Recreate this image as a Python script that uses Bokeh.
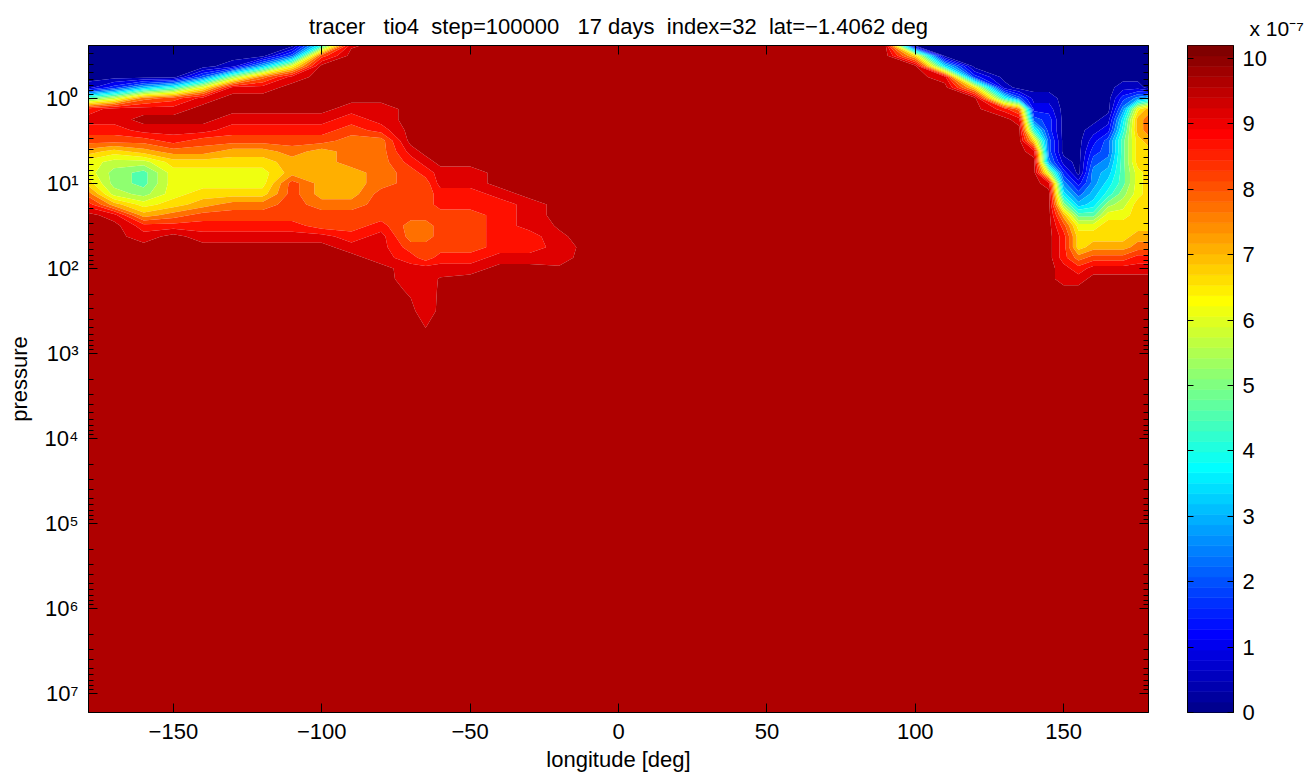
import numpy as np
from bokeh.plotting import figure
from bokeh.layouts import row
from bokeh.models import Range1d, LinearAxis, FixedTicker, CustomJSTickFormatter
from bokeh.embed import file_html
from bokeh.resources import INLINE

# ---------------------------------------------------------------------------
# data: tio4 tracer cross-section at lat = -1.4062 deg, step 100000 (17 days)
# ---------------------------------------------------------------------------
# longitude of each sampled profile [deg]
lon = [-178.6, -170, -160, -150, -140, -130, -120, -110, -100, -90, -80, -70,
       -65, -60, -50, -40, -30, -20, -10, 80, 90, 100, 110, 120, 130, 135, 140,
       145, 150, 155, 160, 165, 170, 175, 178.6]

# log10(pressure) of each sampled level, top of the model downwards
log_p = [-0.62, -0.5, -0.375, -0.25, -0.125, 0.0, 0.125, 0.25, 0.375, 0.5,
         0.625, 0.75, 0.875, 1.0, 1.125, 1.25, 1.375, 1.5, 1.625, 1.75,
         1.875, 2.0, 2.125, 2.25, 2.5, 2.75, 3.0, 7.22]

# tracer mixing ratio [x 1e-7], one profile per longitude (same order as lon)
tracer_profiles = [
    [0.3, 0.3, 0.3, 0.3, 0.8, 4.9, 8.9, 9.4, 8.9, 8.4, 7.4, 6.4, 6.4, 6.9,
     7.9, 8.9, 9.9, 9.9, 9.9, 9.9, 9.9, 9.9, 9.9, 9.9, 9.9, 9.9, 9.9, 9.9],
    [0.3, 0.3, 0.3, 0.3, 1.8, 5.9, 9.4, 9.4, 8.9, 8.4, 6.9, 5.9, 5.4, 5.4,
     5.9, 7.4, 9.4, 9.9, 9.9, 9.9, 9.9, 9.9, 9.9, 9.9, 9.9, 9.9, 9.9, 9.9],
    [0.3, 0.3, 0.3, 0.3, 3.3, 7.9, 9.4, 9.9, 9.4, 8.4, 7.4, 5.9, 4.9, 4.9,
     5.4, 6.4, 7.4, 8.9, 9.4, 9.9, 9.9, 9.9, 9.9, 9.9, 9.9, 9.9, 9.9, 9.9],
    [0.3, 0.3, 0.3, 0.3, 4.3, 8.4, 9.4, 9.9, 9.4, 8.9, 7.9, 6.9, 6.4, 6.4,
     6.4, 6.9, 7.9, 8.9, 9.9, 9.9, 9.9, 9.9, 9.9, 9.9, 9.9, 9.9, 9.9, 9.9],
    [0.3, 0.3, 0.3, 2.3, 6.4, 9.4, 9.9, 9.9, 9.4, 8.4, 7.9, 6.9, 6.4, 6.4,
     6.9, 7.4, 8.4, 8.9, 9.4, 9.9, 9.9, 9.9, 9.9, 9.9, 9.9, 9.9, 9.9, 9.9],
    [0.3, 0.3, 0.8, 5.4, 9.4, 9.9, 9.9, 9.4, 8.9, 8.4, 7.4, 6.9, 6.4, 6.4,
     6.9, 7.9, 8.4, 8.9, 9.4, 9.9, 9.9, 9.9, 9.9, 9.9, 9.9, 9.9, 9.9, 9.9],
    [0.3, 0.3, 3.3, 7.9, 9.4, 9.9, 9.9, 9.4, 8.9, 8.4, 7.4, 6.9, 6.4, 6.4,
     6.9, 7.9, 8.4, 8.9, 9.4, 9.9, 9.9, 9.9, 9.9, 9.9, 9.9, 9.9, 9.9, 9.9],
    [0.3, 2.3, 6.4, 9.4, 9.9, 9.9, 9.9, 9.4, 8.9, 8.4, 7.9, 7.4, 7.4, 8.4,
     8.4, 8.4, 8.4, 8.9, 9.4, 9.9, 9.9, 9.9, 9.9, 9.9, 9.9, 9.9, 9.9, 9.9],
    [4.3, 8.4, 9.9, 9.9, 9.9, 9.9, 9.9, 9.4, 8.9, 8.4, 7.4, 7.4, 7.4, 7.4,
     7.4, 7.9, 8.4, 8.4, 9.4, 9.9, 9.9, 9.9, 9.9, 9.9, 9.9, 9.9, 9.9, 9.9],
    [9.6, 9.9, 9.9, 9.9, 9.9, 9.9, 9.4, 8.9, 8.4, 7.9, 7.9, 7.9, 7.4, 7.4,
     7.4, 7.9, 8.4, 8.4, 8.9, 9.4, 9.9, 9.9, 9.9, 9.9, 9.9, 9.9, 9.9, 9.9],
    [9.9, 9.9, 9.9, 9.9, 9.9, 9.9, 9.4, 9.4, 8.9, 7.9, 7.9, 7.9, 7.9, 7.9,
     8.4, 8.4, 8.4, 8.9, 9.4, 9.4, 9.4, 9.9, 9.9, 9.9, 9.9, 9.9, 9.9, 9.9],
    [9.9, 9.9, 9.9, 9.9, 9.9, 9.9, 9.9, 9.9, 9.9, 9.9, 9.4, 8.9, 8.4, 8.4,
     8.4, 8.4, 8.4, 7.9, 7.9, 8.4, 8.9, 9.4, 9.45, 9.62, 9.8, 9.9, 9.9, 9.9],
    [9.9, 9.9, 9.9, 9.9, 9.9, 9.9, 9.9, 9.9, 9.9, 9.9, 9.9, 9.4, 8.9, 8.4,
     8.4, 8.4, 8.4, 7.9, 7.9, 8.4, 8.4, 9.4, 9.4, 9.4, 9.45, 9.75, 9.9, 9.9],
    [9.9, 9.9, 9.9, 9.9, 9.9, 9.9, 9.9, 9.9, 9.9, 9.9, 9.9, 9.9, 9.4, 9.4,
     8.9, 8.9, 8.4, 8.4, 8.4, 8.4, 8.9, 9.4, 9.75, 9.78, 9.8, 9.9, 9.9, 9.9],
    [9.9, 9.9, 9.9, 9.9, 9.9, 9.9, 9.9, 9.9, 9.9, 9.9, 9.9, 9.9, 9.4, 9.4,
     8.9, 8.9, 8.4, 8.4, 8.4, 8.4, 8.9, 9.4, 9.9, 9.9, 9.9, 9.9, 9.9, 9.9],
    [9.9, 9.9, 9.9, 9.9, 9.9, 9.9, 9.9, 9.9, 9.9, 9.9, 9.9, 9.9, 9.9, 9.9,
     9.4, 8.9, 8.9, 8.9, 8.9, 8.9, 9.4, 9.9, 9.9, 9.9, 9.9, 9.9, 9.9, 9.9],
    [9.9, 9.9, 9.9, 9.9, 9.9, 9.9, 9.9, 9.9, 9.9, 9.9, 9.9, 9.9, 9.9, 9.9,
     9.9, 9.4, 9.4, 9.4, 8.9, 8.9, 9.4, 9.9, 9.9, 9.9, 9.9, 9.9, 9.9, 9.9],
    [9.9, 9.9, 9.9, 9.9, 9.9, 9.9, 9.9, 9.9, 9.9, 9.9, 9.9, 9.9, 9.9, 9.9,
     9.9, 9.9, 9.9, 9.75, 9.6, 9.4, 9.5, 9.75, 9.9, 9.9, 9.9, 9.9, 9.9, 9.9],
    [9.9, 9.9, 9.9, 9.9, 9.9, 9.9, 9.9, 9.9, 9.9, 9.9, 9.9, 9.9, 9.9, 9.9,
     9.9, 9.9, 9.9, 9.9, 9.9, 9.9, 9.9, 9.9, 9.9, 9.9, 9.9, 9.9, 9.9, 9.9],
    [9.9, 9.9, 9.9, 9.9, 9.9, 9.9, 9.9, 9.9, 9.9, 9.9, 9.9, 9.9, 9.9, 9.9,
     9.9, 9.9, 9.9, 9.9, 9.9, 9.9, 9.9, 9.9, 9.9, 9.9, 9.9, 9.9, 9.9, 9.9],
    [9.75, 9.9, 9.9, 9.9, 9.9, 9.9, 9.9, 9.9, 9.9, 9.9, 9.9, 9.9, 9.9, 9.9,
     9.9, 9.9, 9.9, 9.9, 9.9, 9.9, 9.9, 9.9, 9.9, 9.9, 9.9, 9.9, 9.9, 9.9],
    [0.3, 6.9, 9.9, 9.9, 9.9, 9.9, 9.9, 9.9, 9.9, 9.9, 9.9, 9.9, 9.9, 9.9,
     9.9, 9.9, 9.9, 9.9, 9.9, 9.9, 9.9, 9.9, 9.9, 9.9, 9.9, 9.9, 9.9, 9.9],
    [0.3, 0.3, 3.8, 9.4, 9.9, 9.9, 9.9, 9.9, 9.9, 9.9, 9.9, 9.9, 9.9, 9.9,
     9.9, 9.9, 9.9, 9.9, 9.9, 9.9, 9.9, 9.9, 9.9, 9.9, 9.9, 9.9, 9.9, 9.9],
    [0.3, 0.3, 0.3, 1.8, 6.9, 9.9, 9.9, 9.9, 9.9, 9.9, 9.9, 9.9, 9.9, 9.9,
     9.9, 9.9, 9.9, 9.9, 9.9, 9.9, 9.9, 9.9, 9.9, 9.9, 9.9, 9.9, 9.9, 9.9],
    [0.3, 0.3, 0.3, 0.3, 0.8, 4.3, 8.9, 9.9, 9.9, 9.9, 9.9, 9.9, 9.9, 9.9,
     9.9, 9.9, 9.9, 9.9, 9.9, 9.9, 9.9, 9.9, 9.9, 9.9, 9.9, 9.9, 9.9, 9.9],
    [0.3, 0.3, 0.3, 0.3, 0.3, 2.3, 7.9, 9.4, 9.9, 9.9, 9.9, 9.9, 9.9, 9.9,
     9.9, 9.9, 9.9, 9.9, 9.9, 9.9, 9.9, 9.9, 9.9, 9.9, 9.9, 9.9, 9.9, 9.9],
    [0.3, 0.3, 0.3, 0.3, 0.3, 0.8, 1.3, 2.3, 4.3, 6.9, 9.4, 9.9, 9.9, 9.9,
     9.9, 9.9, 9.9, 9.9, 9.9, 9.9, 9.9, 9.9, 9.9, 9.9, 9.9, 9.9, 9.9, 9.9],
    [0.3, 0.3, 0.3, 0.3, 0.3, 0.8, 1.3, 1.8, 1.8, 2.3, 2.3, 2.8, 5.9, 9.4,
     9.9, 9.9, 9.9, 9.9, 9.9, 9.9, 9.9, 9.9, 9.9, 9.9, 9.9, 9.9, 9.9, 9.9],
    [0.3, 0.3, 0.3, 0.3, 0.3, 0.3, 0.3, 0.3, 0.3, 0.3, 0.3, 0.8, 1.8, 2.8,
     3.8, 5.4, 7.4, 8.4, 8.9, 8.9, 8.9, 9.4, 9.4, 9.9, 9.9, 9.9, 9.9, 9.9],
    [0.3, 0.3, 0.3, 0.3, 0.3, 0.3, 0.3, 0.3, 0.3, 0.3, 0.3, 0.3, 0.3, 1.3,
     2.3, 3.3, 4.9, 6.4, 6.9, 6.9, 7.9, 8.9, 9.4, 9.9, 9.9, 9.9, 9.9, 9.9],
    [0.3, 0.3, 0.3, 0.3, 0.3, 0.3, 0.3, 0.3, 0.8, 1.3, 1.8, 2.3, 2.8, 2.8,
     3.3, 3.8, 4.9, 6.4, 6.9, 7.4, 8.4, 9.4, 9.9, 9.9, 9.9, 9.9, 9.9, 9.9],
    [0.3, 0.3, 0.3, 0.3, 0.3, 0.3, 0.3, 0.8, 1.3, 2.3, 2.3, 2.8, 3.3, 3.8,
     4.3, 5.4, 6.4, 6.9, 6.9, 7.4, 8.4, 9.4, 9.9, 9.9, 9.9, 9.9, 9.9, 9.9],
    [0.3, 0.3, 0.3, 0.3, 0.8, 1.8, 2.8, 3.8, 4.3, 4.9, 4.9, 4.9, 4.9, 4.9,
     5.4, 5.9, 6.4, 6.9, 6.9, 7.4, 8.4, 9.4, 9.9, 9.9, 9.9, 9.9, 9.9, 9.9],
    [0.3, 0.3, 0.3, 0.3, 0.8, 2.8, 6.4, 7.4, 7.4, 6.9, 6.9, 6.9, 6.4, 6.4,
     6.4, 6.9, 6.9, 6.9, 7.4, 7.9, 8.9, 9.4, 9.9, 9.9, 9.9, 9.9, 9.9, 9.9],
    [0.3, 0.3, 0.3, 0.3, 0.3, 3.3, 7.4, 7.9, 7.9, 7.4, 6.9, 6.9, 6.9, 6.9,
     6.9, 6.9, 6.9, 6.9, 7.4, 7.9, 8.9, 9.4, 9.9, 9.9, 9.9, 9.9, 9.9, 9.9],
]

# colour limits of the tracer [x 1e-7] and number of filled bands
c_min, c_max = 0.0, 10.2
n_bands = 20

# tick positions
lon_ticks = [-150, -100, -50, 0, 50, 100, 150]
p_decades = [0, 1, 2, 3, 4, 5, 6, 7]
cb_ticks = [0, 1, 2, 3, 4, 5, 6, 7, 8, 9, 10]

# ---------------------------------------------------------------------------
FONT = "Liberation Sans"
FS = "22px"
NB = "\u00a0"
SUP = {"0": "\u2070", "1": "\u00b9", "2": "\u00b2", "3": "\u00b3", "4": "\u2074",
       "5": "\u2075", "6": "\u2076", "7": "\u2077", "-": "\u207b"}


def jet(m=64):
    """Classic 'jet' colour map with m entries."""
    n = int(np.ceil(m / 4))
    u = np.concatenate([np.arange(1, n + 1) / n, np.ones(n - 1), np.arange(n, 0, -1) / n])
    g = int(np.ceil(n / 2)) - (1 if m % 4 == 1 else 0) + np.arange(1, len(u) + 1)
    r = g + n
    b = g - n
    rgb = np.zeros((m, 3))
    for idx, ch in ((r, 0), (g, 1), (b, 2)):
        ok = (idx >= 1) & (idx <= m)
        rgb[idx[ok] - 1, ch] = u[ok]
    return ["#%02x%02x%02x" % tuple(int(round(v * 255)) for v in c) for c in rgb]


cmap = jet(64)
levels = np.linspace(c_min, c_max, n_bands + 1)
band_colors = []
for lv in levels[:-1]:
    i = int(np.floor((lv - c_min) / (c_max - c_min) * len(cmap) + 1e-9))
    band_colors.append(cmap[min(i, len(cmap) - 1)])

z = np.array(tracer_profiles, dtype=float).T  # shape (n_levels, n_lon)


def style_axis(ax, major_in=9, minor_in=5, labels=True):
    ax.major_tick_in = major_in
    ax.major_tick_out = 0
    ax.minor_tick_in = minor_in
    ax.minor_tick_out = 0
    ax.axis_line_color = "black"
    ax.major_tick_line_color = "black"
    ax.minor_tick_line_color = "black"
    ax.axis_line_width = 1
    ax.major_label_text_font = FONT
    ax.major_label_text_font_size = FS
    ax.major_label_text_color = "black"
    ax.axis_label_text_font = FONT
    ax.axis_label_text_font_size = FS
    ax.axis_label_text_font_style = "normal"
    ax.axis_label_text_color = "black"
    if not labels:
        ax.formatter = CustomJSTickFormatter(code="return ''")
        ax.major_label_text_font_size = "0px"
        ax.major_label_standoff = 0
    return ax


# ---------------------------------------------------------------- main panel
p = figure(width=1160, height=775,
           x_range=Range1d(lon[0], lon[-1]), y_range=Range1d(log_p[-1], log_p[0]),
           x_axis_type=None, y_axis_type=None,
           output_backend="svg", toolbar_location=None,
           min_border_left=88, min_border_right=12, min_border_top=45, min_border_bottom=63,
           background_fill_color="white", border_fill_color="white")
p.outline_line_color = "black"

p.title.text = ("tracer" + NB + NB + " tio4" + NB + " step=100000" + NB + NB + " 17 days"
                + NB + " index=32" + NB + " lat=\u22121.4062 deg")
p.title.align = "center"
p.title.vertical_align = "middle"
p.title.text_font = FONT
p.title.text_font_size = FS
p.title.text_font_style = "normal"
p.title.text_color = "black"
p.title.standoff = 12

p.contour(lon, log_p, z, levels, fill_color=band_colors)

minor_p = [n + np.log10(k) for n in range(-1, 8) for k in range(2, 10)
           if log_p[0] < n + np.log10(k) < log_p[-1]]
y_ticker = FixedTicker(ticks=p_decades, minor_ticks=minor_p)
x_ticker = FixedTicker(ticks=lon_ticks, minor_ticks=[])

x_labels = {t: (str(t) if t >= 0 else "\u2212" + str(-t)) for t in lon_ticks}
y_labels = {d: "10" + "".join(SUP[c] for c in str(d)) for d in p_decades}

bottom = style_axis(LinearAxis(ticker=x_ticker, axis_label="longitude [deg]"))
bottom.major_label_overrides = x_labels
bottom.major_label_standoff = 11
bottom.axis_label_standoff = 5
p.add_layout(bottom, "below")

top = style_axis(LinearAxis(ticker=x_ticker), labels=False)
p.add_layout(top, "above")

left = style_axis(LinearAxis(ticker=y_ticker, axis_label="pressure"))
left.major_label_overrides = y_labels
left.major_label_standoff = 10
left.axis_label_standoff = 10
p.add_layout(left, "left")

right = style_axis(LinearAxis(ticker=y_ticker), labels=False)
p.add_layout(right, "right")

# ---------------------------------------------------------------- colour bar
cb = figure(width=148, height=775,
            x_range=Range1d(0, 1), y_range=Range1d(c_min, c_max),
            x_axis_type=None, y_axis_type=None,
            output_backend="svg", toolbar_location=None,
            min_border_left=27, min_border_right=75, min_border_top=45, min_border_bottom=63,
            background_fill_color="white", border_fill_color="white")
cb.outline_line_color = "black"

step = (c_max - c_min) / len(cmap)
cb_bottom = [c_min + i * step for i in range(len(cmap))]
cb_top = [c_min + (i + 1) * step for i in range(len(cmap))]
cb.quad(left=0, right=1, bottom=cb_bottom, top=cb_top, fill_color=cmap,
        line_color=cmap, line_width=0.6)

cb_ticker = FixedTicker(ticks=cb_ticks, minor_ticks=[])
cb_right = style_axis(LinearAxis(ticker=cb_ticker), major_in=6)
cb_right.major_label_standoff = 9
cb.add_layout(cb_right, "right")
cb_left = style_axis(LinearAxis(ticker=cb_ticker), major_in=6, labels=False)
cb.add_layout(cb_left, "left")

cb.title.text = "x 10" + SUP["-"] + SUP["7"]
cb.title.align = "left"
cb.title.vertical_align = "middle"
cb.title.offset = 62
cb.title.text_font = FONT
cb.title.text_font_size = "21px"
cb.title.text_font_style = "normal"
cb.title.text_color = "black"
cb.title.standoff = 10

layout = row(p, cb)
open("out.html", "w").write(file_html(layout, INLINE, title="tracer tio4"))
